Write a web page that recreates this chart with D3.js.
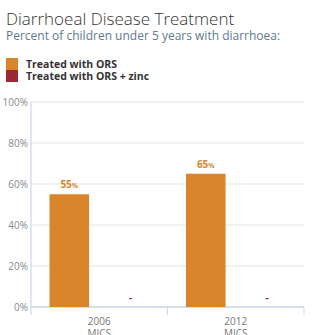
<!DOCTYPE html>
<html>
<head>
<meta charset="utf-8">
<script src="https://d3js.org/d3.v7.min.js"></script>
<style>
  body { margin: 0; background: #fff; }
  svg { display: block; font-family: "Open Sans", sans-serif; }
</style>
</head>
<body>
<script>
// data
var years = ["2006", "2012"];
var survey = ["MICS", "MICS"];
var seriesNames = ["Treated with ORS", "Treated with ORS + zinc"];
var seriesColors = ["#d9852b", "#9b2a30"];
var orsValues = [55, 65];
var zincValues = [null, null];
var yTicks = [0, 20, 40, 60, 80, 100];

var W = 318, H = 335;
var margin = {top: 102, left: 31, right: 14, bottom: 28};

var svg = d3.select("body").append("svg")
  .attr("width", W)
  .attr("height", H);

// title + subtitle
svg.append("text")
  .attr("x", 6).attr("y", 25)
  .attr("font-size", 17).attr("font-weight", 300)
  .attr("fill", "#333")
  .text("Diarrhoeal Disease Treatment");
svg.append("text")
  .attr("x", 6).attr("y", 40)
  .attr("font-size", 12)
  .attr("fill", "#61788f")
  .text("Percent of children under 5 years with diarrhoea:");

// legend
var legend = svg.append("g").attr("transform", "translate(6,58)");
seriesNames.forEach(function(name, i) {
  legend.append("rect")
    .attr("x", 0).attr("y", i * 12)
    .attr("width", 12).attr("height", 12)
    .attr("fill", seriesColors[i]);
  legend.append("text")
    .attr("x", 20).attr("y", i * 12 + 10)
    .attr("font-size", 10.5).attr("font-weight", 700)
    .attr("fill", "#333")
    .text(name);
});

var y = d3.scaleLinear()
  .domain([0, 100])
  .range([H - margin.bottom, margin.top]);

var x0 = d3.scaleBand()
  .domain(years)
  .range([margin.left, W - margin.right])
  .padding(0);

var x1 = d3.scaleBand()
  .domain([0, 1])
  .range([0, x0.bandwidth()])
  .paddingInner(0.355)
  .paddingOuter(0.29)
  .align(0.52);

// gridlines
svg.append("g")
  .selectAll("line")
  .data(yTicks.filter(function(d) { return d > 0; }))
  .enter().append("line")
  .attr("x1", margin.left).attr("x2", W - margin.right)
  .attr("y1", function(d) { return y(d); })
  .attr("y2", function(d) { return y(d); })
  .attr("stroke", "#eeeeee")
  .attr("stroke-width", 1.5);

// y axis
var yAx = svg.append("g")
  .attr("transform", "translate(" + margin.left + ",0)")
  .call(d3.axisLeft(y).tickValues(yTicks).tickSize(0).tickPadding(3)
    .tickFormat(function(d) { return d + "%"; }));
yAx.select(".domain").remove();
yAx.selectAll("text")
  .attr("font-family", "Open Sans, sans-serif")
  .attr("font-size", 10)
  .attr("fill", "#8a8a8a");

svg.append("line")
  .attr("x1", margin.left).attr("x2", margin.left)
  .attr("y1", margin.top).attr("y2", H - margin.bottom + 8)
  .attr("stroke", "#ccd6ea").attr("stroke-width", 1.2);

// x axis
var xAx = svg.append("g")
  .attr("transform", "translate(0," + (H - margin.bottom) + ")")
  .call(d3.axisBottom(x0).tickSize(0).tickPadding(8));
xAx.select(".domain").remove();
xAx.selectAll("text").remove();

svg.append("line")
  .attr("x1", margin.left).attr("x2", W - margin.right)
  .attr("y1", y(0)).attr("y2", y(0))
  .attr("stroke", "#d6ddec").attr("stroke-width", 2);

// group separators
svg.append("g")
  .selectAll("line")
  .data(years)
  .enter().append("line")
  .attr("x1", function(d) { return x0(d) + x0.bandwidth(); })
  .attr("x2", function(d) { return x0(d) + x0.bandwidth(); })
  .attr("y1", y(0)).attr("y2", y(0) + 8)
  .attr("stroke", "#ccd6ea").attr("stroke-width", 1);

var xLabels = svg.append("g");
years.forEach(function(yr, i) {
  var cx = x0(yr) + x0.bandwidth() / 2;
  xLabels.append("text")
    .attr("x", cx).attr("y", y(0) + 18)
    .attr("text-anchor", "middle")
    .attr("font-size", 10).attr("fill", "#777")
    .text(yr);
  xLabels.append("text")
    .attr("x", cx).attr("y", y(0) + 30)
    .attr("text-anchor", "middle")
    .attr("font-size", 10).attr("fill", "#777")
    .text(survey[i]);
});

// bars
var series = [orsValues, zincValues];
series.forEach(function(vals, s) {
  var g = svg.append("g");
  years.forEach(function(yr, i) {
    var v = vals[i];
    var bx = x0(yr) + x1(s);
    if (v == null) {
      g.append("text")
        .attr("x", bx + x1.bandwidth() / 2).attr("y", y(0) - 6)
        .attr("text-anchor", "middle")
        .attr("font-size", 10).attr("font-weight", 700)
        .attr("fill", seriesColors[s])
        .text("-");
      return;
    }
    g.append("rect")
      .attr("x", bx).attr("y", y(v))
      .attr("width", x1.bandwidth())
      .attr("height", y(0) - y(v))
      .attr("fill", seriesColors[s]);
    var t = g.append("text")
      .attr("x", bx + x1.bandwidth() / 2).attr("y", y(v) - 6)
      .attr("text-anchor", "middle")
      .attr("font-size", 10).attr("font-weight", 700)
      .attr("fill", seriesColors[s]);
    t.append("tspan").text(v);
    t.append("tspan").attr("font-size", 7).text("%");
  });
});
</script>
</body>
</html>
